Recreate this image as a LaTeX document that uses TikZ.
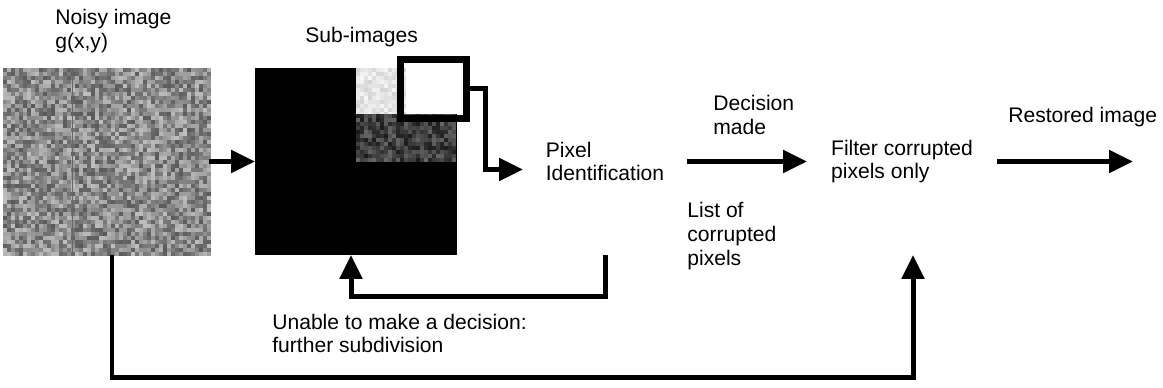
\documentclass[tikz,border=0pt]{standalone}
\usepackage{fontspec}
\setmainfont{Liberation Sans}
\usetikzlibrary{arrows.meta,positioning,calc}
\tikzstyle{wire} = [draw, line width=0.1cm, -{Triangle[length=0.48cm,width=0.44cm]}]

\begin{document}
\begin{tikzpicture}[x=0.02cm, y=-0.02cm, %1 Einheit = 1 Pixel der Vorlage
	lbl/.style={align=left, inner sep=0pt, anchor=west},
	stage/.style={minimum width=#1, minimum height=3.74cm, inner sep=0pt, outer sep=0pt, align=left},
	pic/.style={minimum width=4.04cm, minimum height=3.74cm, inner sep=0pt, outer sep=0pt},
	font=\fontsize{12}{13.5}\selectfont]
	\useasboundingbox (0,0) rectangle (1163,388);
	\pgfmathsetseed{17}
	% verrauschtes Bild
	\node[pic, minimum width=4.12cm, fill=black!45] (noisy) at (106,161.5) {};
	\foreach \i in {0,...,51}{
		\foreach \j in {0,...,46}{
			\pgfmathsetmacro{\tone}{25+40*rnd}
			\fill[black!\tone] (3+4*\i,68+4*\j) rectangle ++(4,4);
		}
	}
	\draw[black!60, line width=0.35pt] (72,68) -- (72,255);
	% Teilbilder
	\node[pic, fill=black] (subimg) at (356,161.5) {};
	\foreach \i in {0,...,12}{
		\foreach \j in {0,...,11}{
			\pgfmathsetmacro{\tone}{3+14*rnd}
			\fill[black!\tone] (356+4*\i,68+4*\j) rectangle ++(4,4);
		}
	}
	\fill[white] (406,68) rectangle (457,114);
	\foreach \i in {0,...,24}{
		\foreach \j in {0,...,11}{
			\pgfmathsetmacro{\tone}{60+30*rnd}
			\fill[black!\tone] (356+4*\i,114+4*\j) rectangle ++(4,4);
		}
	}
	\node[draw, line width=0.14cm, minimum width=1.32cm, minimum height=1.19cm, inner sep=0pt] (pick) at (433.5,88.75) {};
	% Verarbeitungsstufen
	\node[stage=3.28cm] (pixid) at (605,161.5) {Pixel\\Identification};
	\node[stage=3.8cm] (filter) at (902,161.5) {Filter corrupted\\pixels only};
	\coordinate (out) at (1133,161.5);
	% Pfeile
	\draw[wire] (noisy) -- (subimg);
	\draw[wire] (pick.east) -- ++(16,0) |- ([yshift=-0.16cm]pixid.west);
	\draw[wire] (pixid) -- (filter);
	\draw[wire] (filter) -- (out);
	\draw[wire] (pixid.south) -- ++(0,42) -| ([xshift=-0.1cm]subimg.south);
	\draw[wire] ([xshift=0.12cm]noisy.south) -- ++(0,123) -| ([xshift=0.22cm]filter.south);
	% Beschriftungen
	\node[lbl] (noisylbl) at (55,31) {Noisy image\\g(x,y)};
	\node[lbl] (sublbl) at (305,37) {Sub-images};
	\node[lbl] (madelbl) at (713,115) {Decision\\made};
	\node[lbl] (listlbl) at (687,236) {List of\\corrupted\\pixels};
	\node[lbl] (outlbl) at (1008,117) {Restored image};
	\node[lbl] (unablelbl) at (272,333.5) {Unable to make a decision:\\further subdivision};
\end{tikzpicture}
\end{document}
